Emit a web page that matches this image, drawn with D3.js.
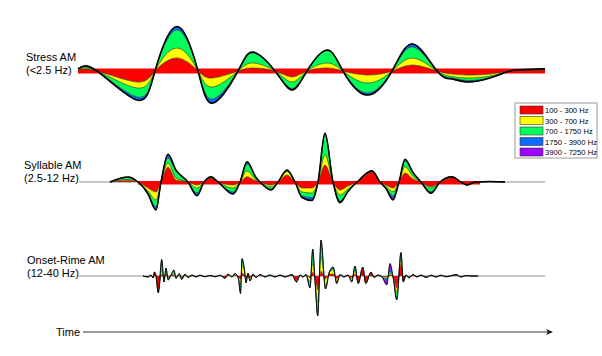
<!DOCTYPE html>
<html>
<head>
<meta charset="utf-8">
<script src="https://cdn.jsdelivr.net/npm/d3@7"></script>
<style>
body { margin: 0; background: #fff; }
svg text { font-family: "Liberation Sans", Arial, sans-serif; fill: #000; }
</style>
</head>
<body>
<svg id="chart" width="602" height="356"></svg>
<script>
// frequency bands (innermost first)
const bandNames = ['100 - 300 Hz', '300 - 700 Hz', '700 - 1750 Hz', '1750 - 3900 Hz', '3900 - 7250 Hz'];
const bandColors = ['#ff0000', '#ffff00', '#00ff5a', '#0a6cff', '#a000ff'];
const layerKeys = ['b1', 'b2', 'b3', 'b4', 'b5'];

// time in ms, amplitude in arbitrary units (signed)
// Stress AM (<2.5 Hz)
const stressTime   = [0, 76, 236, 308, 396, 480, 540, 640, 700, 788, 856, 916, 996, 1060, 1156, 1256, 1340, 1436, 1496, 1556, 1648, 1728, 1788, 1868];
const stressRed    = [1, 0, -11, 0, 13, 0, -7, 0, 3, 0, -6, 0, 3, 0, -4, 0, 6, 0, -3, -4, -3, 0, 0.5, 1];
const stressYellow = [0.5, 0, -6, 0, 10, 0, -9, 0, 5, 0, -5, 0, 5, 0, -8, 0, 7, 0, -2.5, -3, -2, 0, 0.3, 0.5];
const stressGreen  = [0.5, 0, -9, 0, 18, 0, -12, 0, 10, 0, -6.5, 0, 12.5, 0, -10, 0, 11, 0, -1.5, -2.5, -1.5, 0, 0.5, 0.5];
const stressBlue   = [0.2, 0, -3, 0, 3, 0, -4, 0, 1, 0, -1.5, 0, 0.5, 0, -2, 0, 3, 0, -1, -1.5, -0.5, 0, 0.2, 0.2];
const stressPurple = [0, 0, 0, 0, 0.5, 0, 0, 0, 0, 0, 0, 0, 0, 0, 0, 0, 0, 0, 0, 0, 0, 0, 0, 0];

// Syllable AM (2.5-12 Hz)
const syllTime   = [128, 200, 240, 280, 312, 332, 360, 392, 440, 476, 504, 532, 560, 620, 648, 676, 712, 728, 772, 800, 836, 868, 896, 936, 960, 988, 1020, 1048, 1080, 1116, 1176, 1208, 1232, 1260, 1284, 1308, 1340, 1372, 1412, 1448, 1496, 1532, 1556, 1588, 1648, 1708];
const syllRed    = [0, 1.5, 0, -6, -10, 0, 15, 2, 0, -3, 0, 4, 0, -3, 0, 5.3, 1, 0, -3, 0, 7, 0, -6, -6, 0, 17, 0, -8, -4, 0, 10, 0, -3, -6, 0, 9, 3, 0, -4.7, 0, 4.3, 0, -2.5, 0, 0.3, 0];
const syllYellow = [0, 1, 0, -3, -8, 0, 4, 2, 0, -3, 0, 0.3, 0, -3, 0, 5.7, 1, 0, -2, 0, 3.3, 0, -4, -5, 0, 10, 0, -5, -3, 0, 0.3, 0, -1.5, -3.7, 0, 6.3, 2.5, 0, -1.3, 0, 0.3, 0, -0.2, 0, 0, 0];
const syllGreen  = [0, 2, 0, -2, -7, 0, 5, 7, 0, -5, 0, 0.7, 0, -4, 0, 7, 2, 0, -2, 0, 1, 0, -4, -4.5, 0, 20, 0, -6, -2, 0, 0.5, 0, -1.5, -4, 0, 5.7, 3.5, 0, -3.7, 0, 0.5, 0, -0.2, 0, 0.2, 0];
const syllBlue   = [0, 0.5, 0, -1, -3, 0, 3.7, 1, 0, -2.7, 0, 0.3, 0, -2, 0, 2.3, 0.5, 0, -1, 0, 0.7, 0, -1.5, -3, 0, 2, 0, -1.7, -0.5, 0, 0.5, 0, -0.5, -2.3, 0, 1.7, 0.5, 0, -1.6, 0, 0.2, 0, -0.1, 0, 0, 0];
const syllPurple = [0, 0, 0, 0, 0, 0, 0, 0, 0, 0, 0, 0, 0, 0, 0, 0, 0, 0, 0, 0, 0, 0, 0, 0, 0, 0, 0, 0, 0, 0, 0, 0, 0, -2, 0, 0, 0, 0, 0, 0, 0, 0, 0, 0, 0, 0];

// Onset-Rime AM (12-40 Hz)
const onsetTime   = [260, 280, 292, 300, 306, 312, 321, 335, 344, 352, 361, 372, 384, 392, 405, 415, 428, 440, 456, 472, 488, 508, 528, 548, 568, 588, 600, 616, 628, 641, 650, 656, 666, 672, 680, 688, 700, 712, 728, 748, 768, 788, 808, 828, 856, 874, 888, 900, 912, 928, 939, 948, 959, 972, 990, 1005, 1021, 1035, 1048, 1064, 1080, 1095, 1108, 1121, 1139, 1151, 1172, 1184, 1200, 1216, 1235, 1248, 1261, 1275, 1292, 1301, 1312, 1324, 1340, 1356, 1372, 1392, 1412, 1432, 1452, 1472, 1496, 1512, 1532, 1552, 1576, 1600];
const onsetRed    = [0, -0.7, 0.5, -1.5, 3.5, 0, -14, 2, -1, 1, -1, 0.5, 1, -0.5, 0.5, -1, 0.5, -0.5, 0.5, -0.5, 0.5, -0.5, 0.4, -0.5, 0.5, -2, 1, -0.5, 1, -1, -3, 3, 1, -2, 1, -2, 1, -1, 0.8, -0.5, 0.5, -0.5, 0.5, -0.5, 1, -5, 0.5, -0.5, 1, -2, 4, -2, -14, 5, -3, 2, 2, -3, 0.7, -0.5, 0.5, -2, 2, -6, 7, -6, 3, -1, 0.5, -0.5, -1, 1, -1, -12, 12, -5, 0.5, -1, 0.8, -0.5, 0.5, -0.8, 0.4, -0.5, 0.4, -0.4, 0.3, 1, -0.5, 0.3, 0, 0];
const onsetYellow = [0, 0, 0, 0, 0, 0, -1, 4, -1, 1, -0.5, 0, 1, -0.5, 0.5, -0.5, 0.5, 0, 0, 0, 0, 0, 0, 0, 0, 0, 0.5, -0.3, 1, -0.5, -6, 7, 3, -3, 1, -2, 0.5, -0.3, 0.3, 0, 0, 0, 0, 0, 0, -0.5, 0, 0, 0, -4, 8, -1.5, -12, 14, -7, 1, 4, -3, 0.3, 0, 0, -2, 3, -1, 1, -1, 0.5, 0, 0, 0, -1, 1, -0.3, -4, 4, -0.5, 0, 0, 0, 0, 0, 0, 0, 0, 0, 0, 0, 0, 0, 0, 0, 0];
const onsetGreen  = [0, -0.3, 0.5, -0.5, 0.5, 0, -1.5, 6, -2, 5, -2, 0.5, 3.5, -1, 1, -1.5, 0.5, -0.5, 0.3, -0.3, 0.3, -0.3, 0.2, -0.3, 0.3, -0.3, 0.5, -0.2, 0.5, -0.5, -6, 5, 1.5, -1.5, 0.5, -0.5, 0.5, -0.2, 0.4, -0.5, 0.5, -0.5, 0.5, -0.5, 0.5, -0.5, 0.5, -0.5, 0.5, -5, 12, -1, -12, 14, -2, 0.5, 1, -1, 0.5, -0.5, 0.5, -1.5, 4, -0.5, 1, -0.5, 0.5, -0.5, 0.5, -0.5, -1, 2, -0.5, -6, 6, -0.5, 0.5, -1, 0.7, -0.5, 0.5, -0.7, 0.4, -0.5, 0.4, -0.4, 0.3, 0.5, -0.5, 0.2, 0, 0];
const onsetBlue   = [0, 0, 0, 0, 0, 0, -0.5, 4.5, -2, 1, -0.5, 0, 0.5, -0.5, 0.5, -0.5, 0.5, -0.5, 0.2, -0.2, 0, 0, 0, 0, 0, 0, 0, 0, 0, 0, -2.5, 2.5, 0.5, -0.5, 0.5, -0.5, 0, 0, 0, 0, 0, 0, 0, 0, 0, 0, 0, 0, 0, -1, 3, -0.5, -2, 3, -1, 0.5, 2, -0.5, 0, 0, 0, -0.5, 1, 0, 0, 0, 0, 0, 0, 0, -2, 3, -0.5, -2, 1.5, 0, 0, 0, 0, 0, 0, 0, 0, 0, 0, 0, 0, 0, 0, 0, 0, 0];
const onsetPurple = [0, 0, 0, 0, 0, 0, 0, 0, 0, 0, 0, 0, 0, 0, 0, 0, 0, 0, 0, 0, 0, 0, 0, 0, 0, 0, 0, 0, 0, 0, 0, 0, 0, 0, 0, 0, 0, 0, 0, 0, 0, 0, 0, 0, 0, 0, 0, 0, 0, 0, 0, 0, 0, 0, 0, 0, 0, 0, 0, 0, 0, 0, 0, 0, 0, 0, 0, 0, 0, 0, -4, 5.5, 0, 0, 0, 0, 0, 0, 0, 0, 0, 0, 0, 0, 0, 0, 0, 0, 0, 0, 0, 0];

// row labels and the red carrier band under each trace [start ms, end ms]
const stressLabel = ['Stress AM', '(<2.5 Hz)'];
const syllLabel = ['Syllable AM', '(2.5-12 Hz)'];
const onsetLabel = ['Onset-Rime AM', '(12-40 Hz)'];
const stressBand = [0, 1868];
const syllBand = [240, 1608];
const timeSpan = [0, 1868];

const table = (time, layers) => time.map((t, i) => {
    const row = { t: t };
    layerKeys.forEach((k, j) => { row[k] = layers[j][i]; });
    return row;
});

const svg = d3.select('#chart');
const x = d3.scaleLinear().domain(timeSpan).range([78, 545]);

const rows = [
    { label: stressLabel, labelX: 26, labelY: 61, base: 71, band: stressBand, bandAmp: [-2.5, 2.5], guide: false,
      outline: 1.6, divider: 0.6, curve: d3.curveNatural,
      data: table(stressTime, [stressRed, stressYellow, stressGreen, stressBlue, stressPurple]) },
    { label: syllLabel, labelX: 24, labelY: 169, base: 182, band: syllBand, bandAmp: [-2.5, 1], guide: true,
      outline: 1.5, divider: 0.6, curve: d3.curveMonotoneX,
      data: table(syllTime, [syllRed, syllYellow, syllGreen, syllBlue, syllPurple]) },
    { label: onsetLabel, labelX: 27, labelY: 264, base: 276, band: null, guide: true,
      outline: 0.9, divider: 0.35, curve: d3.curveMonotoneX,
      data: table(onsetTime, [onsetRed, onsetYellow, onsetGreen, onsetBlue, onsetPurple]) }
];

rows.forEach(row => {
    const y = d3.scaleLinear().domain([-50, 50]).range([row.base + 50, row.base - 50]);
    const g = svg.append('g');

    // gray baseline
    if (row.guide) {
        g.append('line')
            .attr('x1', x(timeSpan[0]) + 1).attr('x2', x(timeSpan[1]))
            .attr('y1', y(0)).attr('y2', y(0))
            .attr('stroke', '#8c8c8c').attr('stroke-width', 1);
    }

    // red carrier band
    if (row.band) {
        g.append('rect')
            .attr('x', x(row.band[0]))
            .attr('width', x(row.band[1]) - x(row.band[0]))
            .attr('y', y(row.bandAmp[1]))
            .attr('height', y(row.bandAmp[0]) - y(row.bandAmp[1]))
            .attr('fill', bandColors[0]);
    }

    // stacked layers, signed cumulative sums
    const series = d3.stack().keys(layerKeys)(row.data);

    const area = d3.area()
        .x(d => x(d.data.t))
        .y0(d => y(d[0]))
        .y1(d => y(d[1]))
        .curve(row.curve);

    g.selectAll('path.layer')
        .data(series)
        .join('path')
        .attr('class', 'layer')
        .attr('d', area)
        .attr('fill', (d, i) => bandColors[i]);

    const edge = d3.line()
        .x(d => x(d.data.t))
        .y(d => y(d[1]))
        .curve(row.curve);

    // thin dividing lines between layers
    g.selectAll('path.divider')
        .data(series.slice(0, 4))
        .join('path')
        .attr('class', 'divider')
        .attr('d', edge)
        .attr('fill', 'none')
        .attr('stroke', '#1e2a1e')
        .attr('stroke-width', row.divider);

    // outer outline
    g.append('path')
        .datum(series[4])
        .attr('d', edge)
        .attr('fill', 'none')
        .attr('stroke', '#000')
        .attr('stroke-width', row.outline);

    // labels
    g.selectAll('text.label')
        .data(row.label)
        .join('text')
        .attr('class', 'label')
        .attr('x', row.labelX)
        .attr('y', (d, i) => row.labelY + i * 12.5)
        .attr('font-size', 11)
        .text(d => d);
});

// legend
const legend = svg.append('g').attr('transform', 'translate(515,103)');
legend.append('rect')
    .attr('x', 0).attr('y', 0).attr('width', 82).attr('height', 55)
    .attr('fill', '#fff').attr('stroke', '#9a9a9a').attr('stroke-width', 1);
const item = legend.selectAll('g.item')
    .data(bandNames)
    .join('g')
    .attr('class', 'item')
    .attr('transform', (d, i) => 'translate(5,' + (3 + i * 10.5) + ')');
item.append('rect')
    .attr('width', 23).attr('height', 8)
    .attr('fill', (d, i) => bandColors[i])
    .attr('stroke', '#333').attr('stroke-width', 0.6);
item.append('text')
    .attr('x', 25).attr('y', 7.3)
    .attr('font-size', 7.6)
    .attr('fill', '#222')
    .text(d => d);

// time arrow
const arrowY = 332;
svg.append('text')
    .attr('x', 56).attr('y', arrowY + 4)
    .attr('font-size', 11)
    .text('Time');
svg.append('line')
    .attr('x1', x(20)).attr('x2', x(1880))
    .attr('y1', arrowY).attr('y2', arrowY)
    .attr('stroke', '#7a7a7a').attr('stroke-width', 1.5);
svg.append('path')
    .attr('d', 'M' + x(1900) + ',' + arrowY + 'l-7,-3l2,3l-2,3z')
    .attr('fill', '#111');
</script>
</body>
</html>
